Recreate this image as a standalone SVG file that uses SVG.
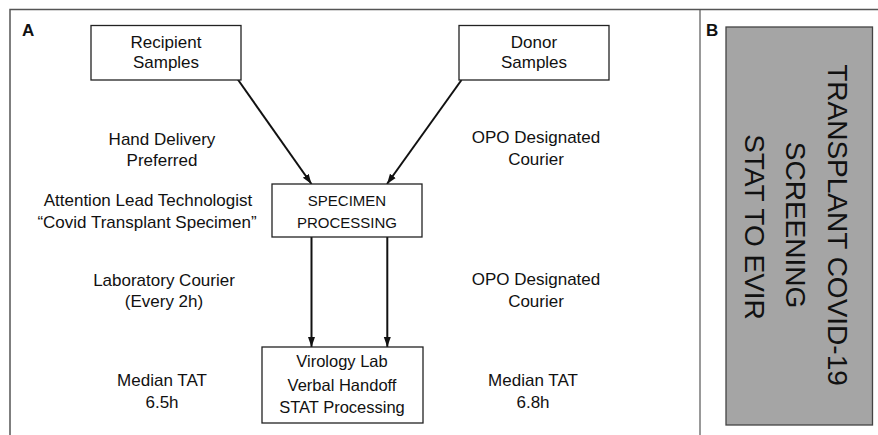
<svg xmlns="http://www.w3.org/2000/svg" width="878" height="435" viewBox="0 0 878 435">
<style>
text{font-family:"Liberation Sans",Arial,sans-serif;fill:#111;text-anchor:middle}
.t{font-size:17px}
.cap{font-size:15px}
.vb{font-size:16.5px}
.lbl{font-size:17px;font-weight:bold;text-anchor:start}
.big{font-size:28px}
.box{fill:#fff;stroke:#222;stroke-width:1.3}
.frame{stroke:#555;stroke-width:1.5;fill:none}
.conn{stroke:#111;stroke-width:2;fill:none}
</style>
<defs>
<marker id="ah" markerUnits="userSpaceOnUse" markerWidth="10" markerHeight="10" viewBox="0 0 10 10" refX="10" refY="5" orient="auto">
<path d="M0,1.5 L10,5 L0,8.5 z" fill="#111"/>
</marker>
</defs>
<rect width="878" height="435" fill="#fff"/>
<g id="frame">
<path class="frame" d="M10,435 V9.5 H878"/>
<path d="M700,9.5 V435" stroke="#555" stroke-width="1.2"/>
<text class="lbl" x="22" y="36">A</text>
<text class="lbl" x="706" y="36">B</text>
</g>
<g id="connectors">
<line class="conn" x1="237.5" y1="79" x2="311.5" y2="184" marker-end="url(#ah)"/>
<line class="conn" x1="461.5" y1="80" x2="387" y2="184" marker-end="url(#ah)"/>
<line class="conn" x1="311.5" y1="237" x2="311.5" y2="347" marker-end="url(#ah)"/>
<line class="conn" x1="387.3" y1="237" x2="387.3" y2="347" marker-end="url(#ah)"/>
</g>
<g id="recipient">
<rect class="box" x="91" y="25.5" width="150" height="54.5"/>
<text class="t" x="166" y="48">Recipient</text>
<text class="t" x="166" y="68">Samples</text>
</g>
<g id="donor">
<rect class="box" x="459" y="25.5" width="150" height="54.5"/>
<text class="t" x="534" y="48">Donor</text>
<text class="t" x="534" y="68">Samples</text>
</g>
<g id="specimen">
<rect class="box" x="272" y="184" width="150" height="53"/>
<text class="cap" x="347" y="206">SPECIMEN</text>
<text class="cap" x="347" y="228">PROCESSING</text>
</g>
<g id="virology">
<rect class="box" x="262" y="347" width="161" height="76"/>
<text class="vb" x="342" y="367">Virology Lab</text>
<text class="vb" x="342" y="391">Verbal Handoff</text>
<text class="vb" x="342" y="413">STAT Processing</text>
</g>
<g id="labels">
<text class="t" x="162" y="145">Hand Delivery</text>
<text class="t" x="162" y="166">Preferred</text>
<text class="t" x="148" y="206">Attention Lead Technologist</text>
<text class="t" x="147" y="228">“Covid Transplant Specimen”</text>
<text class="t" x="536" y="143">OPO Designated</text>
<text class="t" x="536" y="165">Courier</text>
<text class="t" x="164" y="286">Laboratory Courier</text>
<text class="t" x="164" y="307">(Every 2h)</text>
<text class="t" x="536" y="285">OPO Designated</text>
<text class="t" x="536" y="307">Courier</text>
<text class="t" x="162" y="386">Median TAT</text>
<text class="t" x="162" y="408">6.5h</text>
<text class="t" x="533" y="386">Median TAT</text>
<text class="t" x="533" y="408">6.8h</text>
</g>
<g id="screening">
<rect x="726" y="27" width="146.5" height="398" fill="#a5a5a5" stroke="#444" stroke-width="1.3"/>
<text class="big" transform="translate(828,225) rotate(90)">TRANSPLANT COVID-19</text>
<text class="big" transform="translate(786,225) rotate(90)">SCREENING</text>
<text class="big" transform="translate(745,227) rotate(90)">STAT TO EVIR</text>
</g>
</svg>
